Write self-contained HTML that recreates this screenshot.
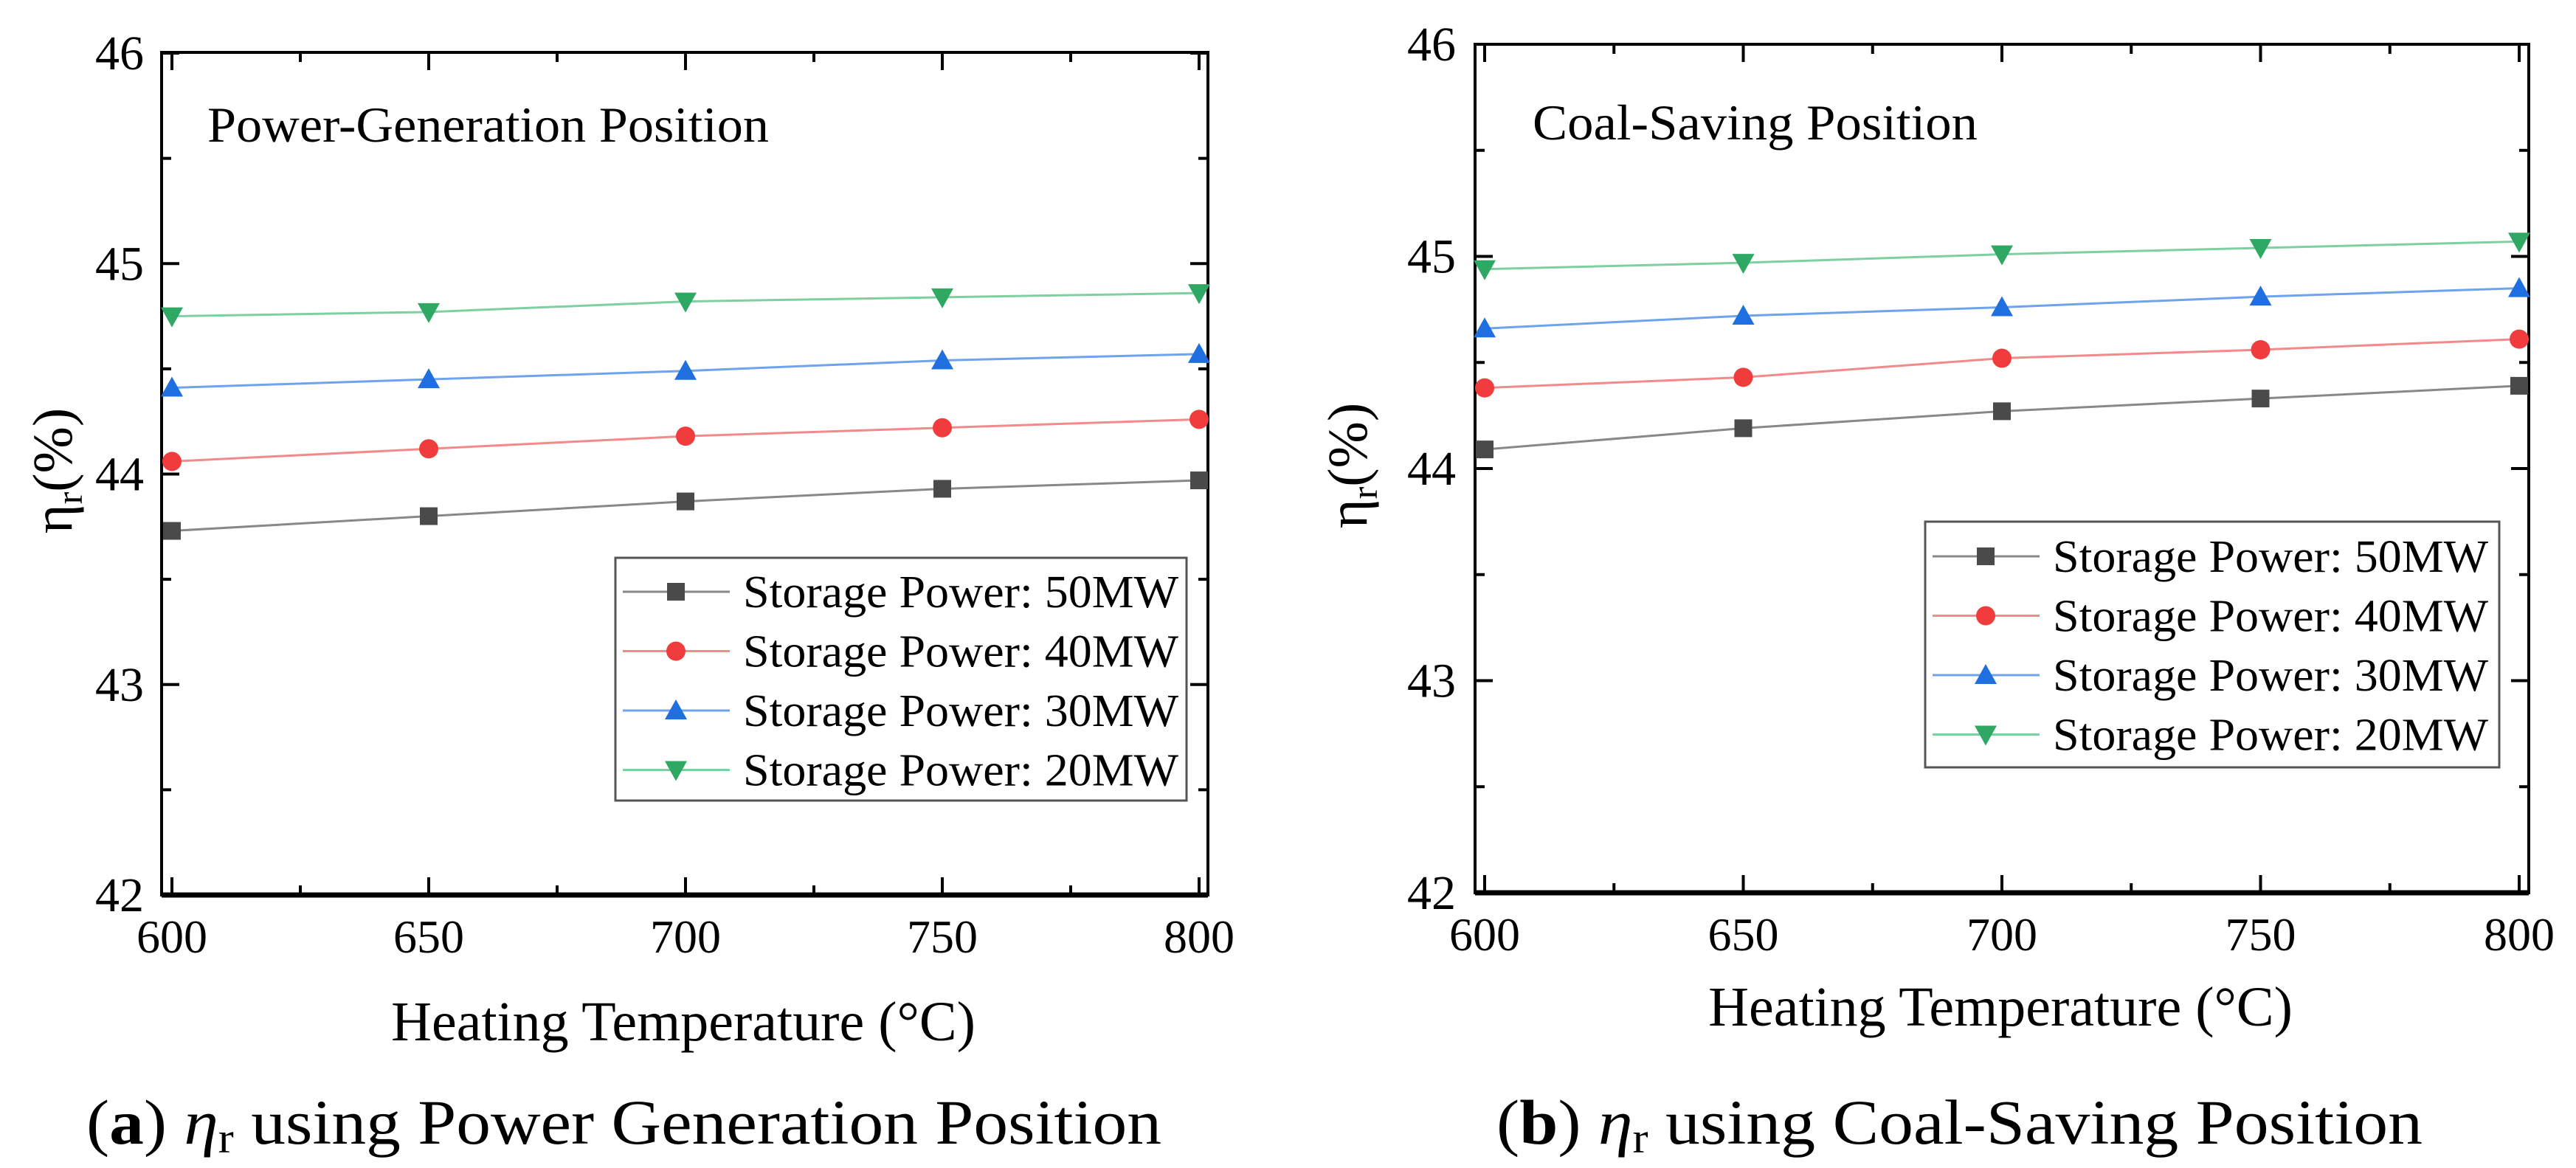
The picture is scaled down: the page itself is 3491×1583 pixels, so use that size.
<!DOCTYPE html>
<html><head><meta charset="utf-8"><style>
html,body{margin:0;padding:0;background:#fff;}
svg{display:block;}
text{font-family:"Liberation Serif",serif;fill:#000;}
</style></head><body>
<svg id="chart" width="3491" height="1583" viewBox="0 0 3491 1583" xmlns="http://www.w3.org/2000/svg"></svg>
<script>
const temps = [600, 650, 700, 750, 800];
const xTicks = [600, 650, 700, 750, 800];
const yTicks = [42, 43, 44, 45, 46];
const seriesNames = ["Storage Power: 50MW", "Storage Power: 40MW", "Storage Power: 30MW", "Storage Power: 20MW"];
const pg50 = [43.73, 43.80, 43.87, 43.93, 43.97];
const pg40 = [44.06, 44.12, 44.18, 44.22, 44.26];
const pg30 = [44.41, 44.45, 44.49, 44.54, 44.57];
const pg20 = [44.75, 44.77, 44.82, 44.84, 44.86];
const cs50 = [44.09, 44.19, 44.27, 44.33, 44.39];
const cs40 = [44.38, 44.43, 44.52, 44.56, 44.61];
const cs30 = [44.66, 44.72, 44.76, 44.81, 44.85];
const cs20 = [44.94, 44.97, 45.01, 45.04, 45.07];

const NS = "http://www.w3.org/2000/svg";
const svg = document.getElementById('chart');
const colors = ["#4a4a4a", "#f03c3c", "#1f6fe0", "#2fa864"];
const lineColors = ["#888888", "#f38a8a", "#6ea3ee", "#7fd0a0"];
const shapes = ["square", "circle", "up", "down"];

function mk(tag, attrs, parent) {
  const e = document.createElementNS(NS, tag);
  for (const k in attrs) e.setAttribute(k, attrs[k]);
  (parent || svg).appendChild(e);
  return e;
}
function marker(g, shape, cx, cy, color) {
  let m;
  if (shape === "square") m = mk('rect', {x: cx-12, y: cy-12, width: 24, height: 24, fill: color}, g);
  else if (shape === "circle") m = mk('circle', {cx: cx, cy: cy, r: 13, fill: color}, g);
  else if (shape === "up") m = mk('polygon', {points: `${cx-15},${cy+12} ${cx+15},${cy+12} ${cx},${cy-15}`, fill: color}, g);
  else m = mk('polygon', {points: `${cx-15},${cy-12} ${cx+15},${cy-12} ${cx},${cy+15}`, fill: color}, g);
  return m;
}

function panel(cfg) {
  const g = mk('g', {});
  
  
  const X = v => cfg.x600 + (v - 600) / 200 * (cfg.x800 - cfg.x600);
  const Y = v => cfg.y42 - (v - 42) / 4 * (cfg.y42 - cfg.y46);
  const frame = mk('rect', {x: cfg.L, y: cfg.T, width: cfg.R - cfg.L, height: cfg.B - cfg.T, fill: 'none', stroke: '#000', 'stroke-width': 4}, g);
  
  
  mk('line', {x1: cfg.L, x2: cfg.R, y1: cfg.B, y2: cfg.B, stroke: '#000', 'stroke-width': 7}, g);
  for (let v = 600; v <= 800; v += 25) {
    const major = v % 50 === 0, len = major ? 24 : 13, x = X(v);
    mk('line', {x1: x, x2: x, y1: cfg.B, y2: cfg.B - len, stroke: '#000', 'stroke-width': 4}, g);
    mk('line', {x1: x, x2: x, y1: cfg.T, y2: cfg.T + len, stroke: '#000', 'stroke-width': 4}, g);
  }
  for (let v = 42; v <= 46; v += 0.5) {
    const major = v % 1 === 0, len = major ? 24 : 13, y = Y(v);
    mk('line', {x1: cfg.L, x2: cfg.L + len, y1: y, y2: y, stroke: '#000', 'stroke-width': 4}, g);
    mk('line', {x1: cfg.R, x2: cfg.R - len, y1: y, y2: y, stroke: '#000', 'stroke-width': 4}, g);
  }
  xTicks.forEach(v => {
    const t = mk('text', {x: X(v), y: cfg.B + 78, 'font-size': 64, 'text-anchor': 'middle'}, g);
    t.textContent = v;
    
    
  });
  yTicks.forEach(v => {
    const t = mk('text', {x: cfg.ylabX, y: Y(v) + 22, 'font-size': 66, 'text-anchor': 'middle'}, g);
    t.textContent = v;
    
    
  });
  const xt = mk('text', {x: cfg.xtX, y: cfg.xtY, 'font-size': 76, 'text-anchor': 'middle'}, g);
  xt.textContent = 'Heating Temperature (°C)';
  
  
  const yt = mk('text', {x: 0, y: 0, 'font-size': 76, 'text-anchor': 'middle', transform: `translate(${cfg.ytX},${cfg.ytY}) rotate(-90)`}, g);
  yt.innerHTML = 'η<tspan font-size="50" dy="14">r</tspan><tspan dy="-14">(%)</tspan>';
  
  
  const it = mk('text', {x: cfg.titleX, y: cfg.titleY, 'font-size': 68, textLength: cfg.titleW, lengthAdjust: 'spacingAndGlyphs'}, g);
  it.textContent = cfg.title;
  
  
  cfg.series.forEach((vals, i) => {
    const sg = mk('g', {}, g);
    
    
    const pts = vals.map((v, j) => X(temps[j]) + ',' + Y(v)).join(' ');
    const pl = mk('polyline', {points: pts, fill: 'none', stroke: lineColors[i], 'stroke-width': 3}, sg);
    
    
    vals.forEach((v, j) => {
      const m = marker(sg, shapes[i], X(temps[j]), Y(v), colors[i]);
      
      
    });
  });
  const lg = mk('g', {}, g);
  
  
  mk('rect', {x: cfg.lgL, y: cfg.lgT, width: cfg.lgR - cfg.lgL, height: cfg.lgB - cfg.lgT, fill: '#fff', stroke: '#555', 'stroke-width': 3}, lg);
  seriesNames.forEach((n, i) => {
    const cy = cfg.lgRow0 + i * 80.5;
    const eg = mk('g', {}, lg);
    
    
    mk('line', {x1: cfg.lgL + 10, x2: cfg.lgL + 155, y1: cy, y2: cy, stroke: lineColors[i], 'stroke-width': 3}, eg);
    marker(eg, shapes[i], cfg.lgL + 82, cy, colors[i]);
    const t = mk('text', {x: cfg.lgL + 173, y: cy + 21, 'font-size': 62, textLength: 590, lengthAdjust: 'spacingAndGlyphs'}, eg);
    t.textContent = n;
  });
  const cap = mk('text', {x: cfg.capX, y: cfg.capY, 'font-size': 86, textLength: cfg.capW, lengthAdjust: 'spacingAndGlyphs'}, g);
  cap.innerHTML = '(<tspan font-weight="bold">' + cfg.capLetter + '</tspan>)  <tspan font-style="italic">η</tspan><tspan font-size="58" dy="12">r</tspan><tspan dy="-12">  using ' + cfg.capText + '</tspan>';
  
  
}

panel({name: 'panel-a-power-generation', L: 219, R: 1637, T: 71, B: 1213, x600: 233, x800: 1625, y42: 1213, y46: 72,
  ylabX: 162, xtX: 926, xtY: 1410, ytX: 97, ytY: 638,
  title: 'Power-Generation Position', titleX: 281, titleY: 192, titleW: 761,
  series: [pg50, pg40, pg30, pg20],
  lgL: 834, lgR: 1608, lgT: 756, lgB: 1085, lgRow0: 802,
  capX: 117, capY: 1550, capW: 1457, capLetter: 'a', capText: 'Power Generation Position'});
panel({name: 'panel-b-coal-saving', L: 1999, R: 3427, T: 60, B: 1210, x600: 2012, x800: 3414, y42: 1210, y46: 60,
  ylabX: 1940, xtX: 2711, xtY: 1390, ytX: 1852, ytY: 631,
  title: 'Coal-Saving Position', titleX: 2077, titleY: 189, titleW: 603,
  series: [cs50, cs40, cs30, cs20],
  lgL: 2609, lgR: 3387, lgT: 707, lgB: 1040, lgRow0: 754,
  capX: 2028, capY: 1550, capW: 1255, capLetter: 'b', capText: 'Coal-Saving Position'});
</script>
</body></html>
